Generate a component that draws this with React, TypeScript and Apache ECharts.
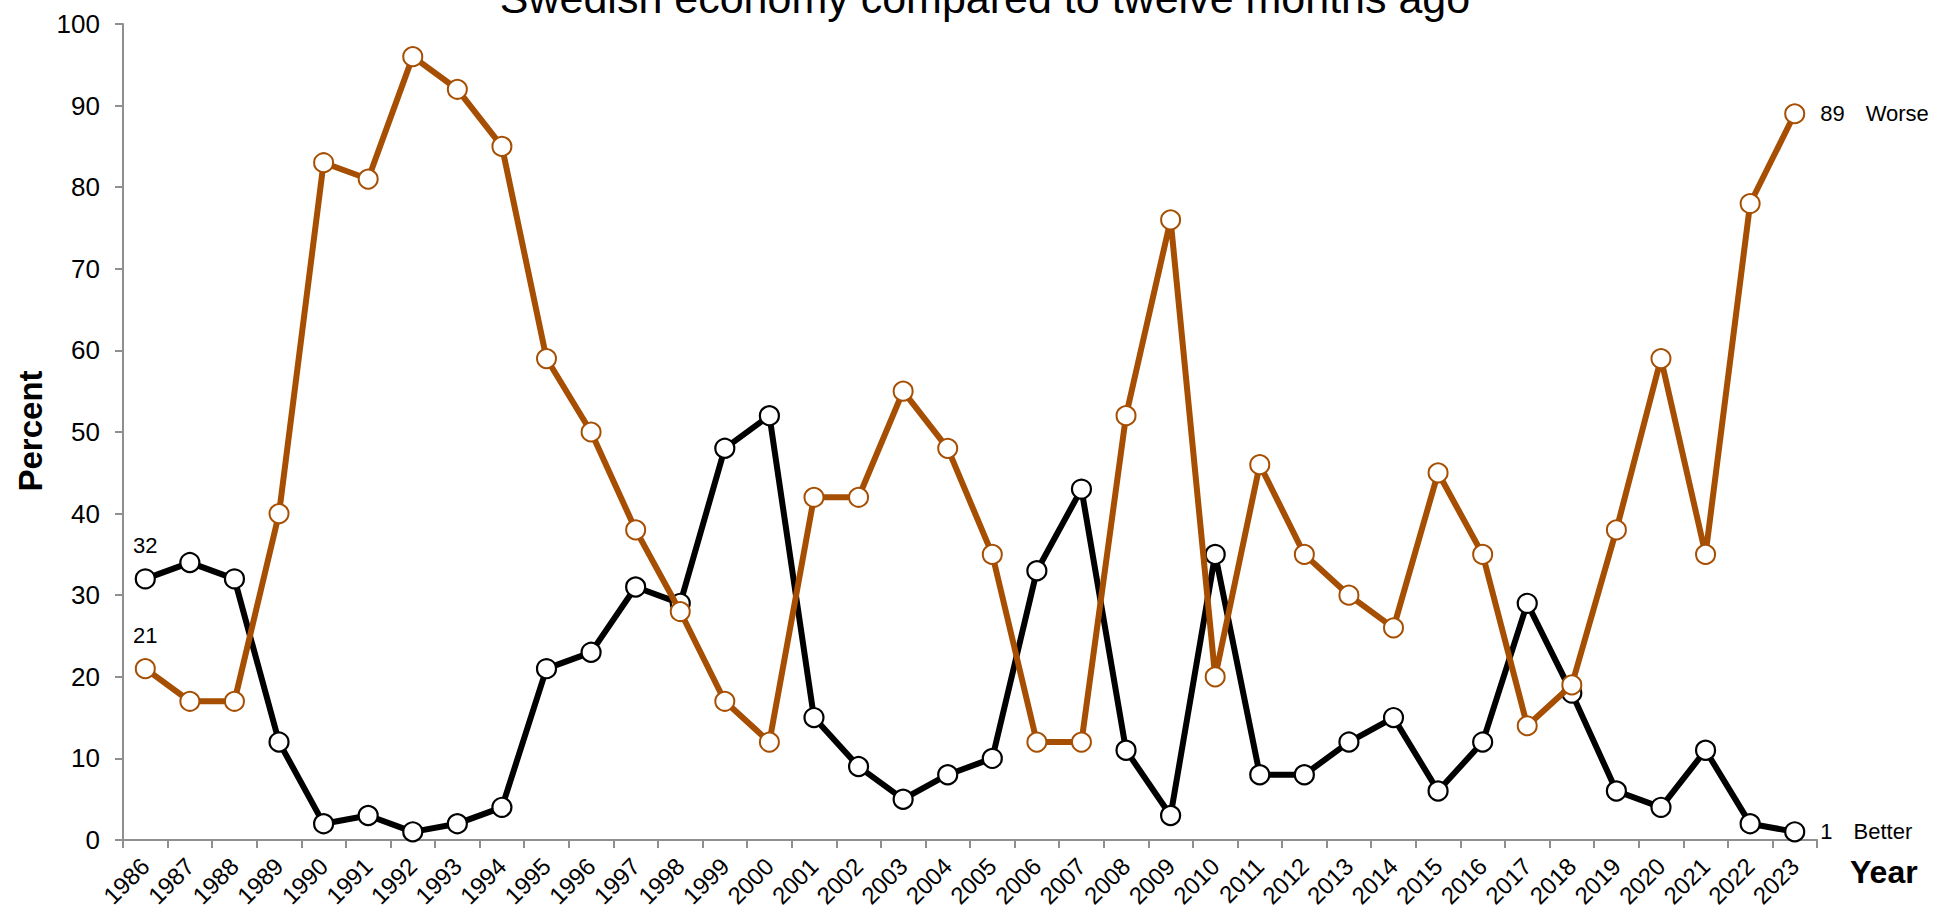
import React, { useEffect, useRef } from 'react';
import * as echarts from 'echarts';

const years = [
  '1986', '1987', '1988', '1989', '1990', '1991', '1992', '1993', '1994', '1995',
  '1996', '1997', '1998', '1999', '2000', '2001', '2002', '2003', '2004', '2005',
  '2006', '2007', '2008', '2009', '2010', '2011', '2012', '2013', '2014', '2015',
  '2016', '2017', '2018', '2019', '2020', '2021', '2022', '2023',
];

const better = [
  32, 34, 32, 12, 2, 3, 1, 2, 4, 21,
  23, 31, 29, 48, 52, 15, 9, 5, 8, 10,
  33, 43, 11, 3, 35, 8, 8, 12, 15, 6,
  12, 29, 18, 6, 4, 11, 2, 1,
];

const worse = [
  21, 17, 17, 40, 83, 81, 96, 92, 85, 59,
  50, 38, 28, 17, 12, 42, 42, 55, 48, 35,
  12, 12, 52, 76, 20, 46, 35, 30, 26, 45,
  35, 14, 19, 38, 59, 35, 78, 89,
];

const yTicks = { min: 0, max: 100, interval: 10 };

const FONT = 'Arial, "Liberation Sans", Helvetica, sans-serif';
const BROWN = '#A64F03';
const AXIS = '#8f8f8f';

function buildData(values: number[], endName: string) {
  return values.map((v, i) => {
    if (i === 0) {
      return {
        value: v,
        label: {
          show: true,
          position: 'top',
          distance: 12,
          color: '#000',
          fontSize: 22,
          fontFamily: FONT,
          formatter: '{c}',
        },
      };
    }
    if (i === values.length - 1) {
      return {
        value: v,
        label: {
          show: true,
          position: 'right',
          distance: 15,
          color: '#000',
          fontFamily: FONT,
          fontSize: 22,
          formatter: '{v|{c}}{n|' + endName + '}',
          rich: {
            v: { fontSize: 22, fontFamily: FONT, color: '#000', padding: [0, 21, 0, 0] },
            n: { fontSize: 22, fontFamily: FONT, color: '#000' },
          },
        },
      };
    }
    return v;
  });
}

export default function App() {
  const ref = useRef<HTMLDivElement>(null);

  useEffect(() => {
    const chart = echarts.init(ref.current!, null, { renderer: 'svg' });
    const option: any = {
      animation: false,
      backgroundColor: '#fff',
      grid: { left: 123, right: 122, top: 24, bottom: 73, containLabel: false },
      xAxis: {
        type: 'category',
        data: years,
        boundaryGap: true,
        axisLine: { show: true, lineStyle: { color: AXIS, width: 2 } },
        axisTick: { show: true, length: 8, lineStyle: { color: AXIS, width: 2 } },
        axisLabel: {
          interval: 0,
          rotate: 45,
          margin: 22,
          color: '#000',
          fontSize: 24,
          fontFamily: FONT,
        },
        splitLine: { show: false },
      },
      yAxis: {
        type: 'value',
        min: yTicks.min,
        max: yTicks.max,
        interval: yTicks.interval,
        axisLine: { show: true, lineStyle: { color: AXIS, width: 2 } },
        axisTick: { show: true, length: 8, lineStyle: { color: AXIS, width: 2 } },
        axisLabel: { margin: 23, color: '#000', fontSize: 26, fontFamily: FONT },
        splitLine: { show: false },
      },
      graphic: [
        {
          type: 'text',
          x: 985,
          y: -2,
          style: {
            text: 'Swedish economy compared to twelve months ago',
            fontSize: 43,
            fontFamily: FONT,
            fill: '#000',
            align: 'center',
            verticalAlign: 'middle',
          },
        },
        {
          type: 'text',
          x: 30,
          y: 431,
          rotation: Math.PI / 2,
          style: {
            text: 'Percent',
            fontSize: 33,
            fontWeight: 'bold',
            fontFamily: FONT,
            fill: '#000',
            align: 'center',
            verticalAlign: 'middle',
          },
        },
        {
          type: 'text',
          x: 1850,
          y: 872,
          style: {
            text: 'Year',
            fontSize: 32,
            fontWeight: 'bold',
            fontFamily: FONT,
            fill: '#000',
            align: 'left',
            verticalAlign: 'middle',
          },
        },
      ],
      series: [
        {
          name: 'Better',
          type: 'line',
          data: buildData(better, 'Better'),
          symbol: 'circle',
          symbolSize: 19,
          showAllSymbol: true,
          lineStyle: { color: '#000', width: 6 },
          itemStyle: { color: '#fff', borderColor: '#000', borderWidth: 2.2 },
          emphasis: { disabled: true },
          z: 2,
        },
        {
          name: 'Worse',
          type: 'line',
          data: buildData(worse, 'Worse'),
          symbol: 'circle',
          symbolSize: 19,
          showAllSymbol: true,
          lineStyle: { color: BROWN, width: 6 },
          itemStyle: { color: '#fff', borderColor: BROWN, borderWidth: 2 },
          emphasis: { disabled: true },
          z: 3,
        },
      ],
    };
    chart.setOption(option);
    return () => chart.dispose();
  }, []);

  return (
    <div
      ref={ref}
      style={{ position: 'absolute', left: 0, top: 0, width: 1939, height: 913 }}
    />
  );
}
